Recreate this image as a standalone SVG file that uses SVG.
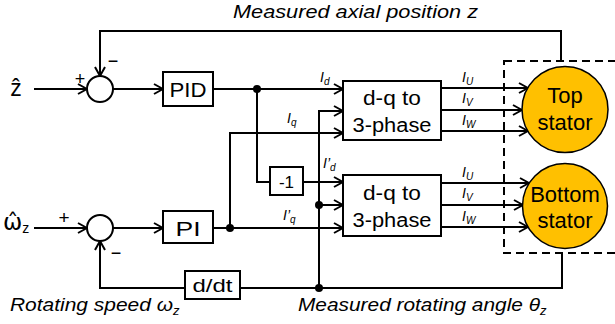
<svg xmlns="http://www.w3.org/2000/svg" width="615" height="324" viewBox="0 0 615 324">
<style>
text{font-family:"Liberation Sans",Arial,sans-serif;fill:#000}
.it{font-style:italic}
.blk{fill:#fff;stroke:#000;stroke-width:2}
.sum{fill:#fff;stroke:#000;stroke-width:2}
.stator{fill:#FFC000;stroke:#000;stroke-width:1.5}
.w{fill:none;stroke:#000;stroke-width:2}
.a{marker-end:url(#ah)}
.dot{fill:#000}
.mid{text-anchor:middle}
.lab{font-size:14px;font-style:italic}
.sub{font-size:10px}
.dv{font-family:"DejaVu Sans","Noto Sans",sans-serif}
</style>
<defs>
<marker id="ah" viewBox="0 0 12 12" refX="11" refY="6" markerWidth="12" markerHeight="12" markerUnits="userSpaceOnUse" orient="auto">
<path d="M2,1 L11,6 L2,11" fill="none" stroke="#000" stroke-width="2"/>
</marker>
</defs>

<g id="dashed-boundary">
<rect x="504" y="61" width="200" height="192" fill="none" stroke="#000" stroke-width="2" stroke-dasharray="8 5"/>
</g>

<g id="connectors">
<path class="w a" d="M34,89 H87"/>
<path class="w a" d="M113,89 H163"/>
<path class="w a" d="M213,89 H343"/>
<path class="w" d="M257,89 V182 H270"/>
<path class="w a" d="M303,182 H343"/>
<path class="w a" d="M230,228 V133 H343"/>
<path class="w a" d="M213,228 H343"/>
<path class="w a" d="M113,228 H163"/>
<path class="w a" d="M34,228 H87"/>
<path class="w" d="M562,253 V288 H240"/>
<path class="w a" d="M319,288 V111 H343"/>
<path class="w a" d="M319,205 H343"/>
<path class="w a" d="M185,288 H100 V241"/>
<path class="w a" d="M561,61 V31 H100 V76"/>
<path class="w a" d="M441,88 H528"/>
<path class="w a" d="M441,110 H522"/>
<path class="w a" d="M441,131 H528"/>
<path class="w a" d="M441,183 H529"/>
<path class="w a" d="M441,205 H523"/>
<path class="w a" d="M441,227 H528"/>
<circle class="dot" cx="257" cy="89" r="4"/>
<circle class="dot" cx="230" cy="228" r="4"/>
<circle class="dot" cx="319" cy="205" r="4"/>
<circle class="dot" cx="319" cy="288" r="4"/>
</g>

<g id="sum-z">
<circle class="sum" cx="100" cy="89" r="13"/>
<text x="80" y="85" font-size="18" class="mid">+</text>
<text x="113" y="67" font-size="18" class="mid">−</text>
</g>
<g id="sum-w">
<circle class="sum" cx="100" cy="228" r="13"/>
<text x="64" y="224" font-size="19" class="mid">+</text>
<text x="116" y="259" font-size="18" class="mid">−</text>
</g>

<g id="input-z">
<text x="16" y="96" font-size="23" class="mid">ẑ</text>
</g>
<g id="input-w">
<text x="3" y="230" font-size="23"><tspan class="dv">ω̂</tspan><tspan font-size="14" dy="3">z</tspan></text>
</g>

<g id="pid">
<rect class="blk" x="163" y="72" width="50" height="34"/>
<text x="188" y="97" font-size="21" class="mid" textLength="37" lengthAdjust="spacingAndGlyphs">PID</text>
</g>
<g id="pi">
<rect class="blk" x="163" y="211" width="50" height="32"/>
<text x="188" y="236" font-size="21" class="mid" textLength="25" lengthAdjust="spacingAndGlyphs">PI</text>
</g>
<g id="neg">
<rect class="blk" x="270" y="167" width="33" height="28"/>
<text x="286.5" y="188" font-size="17" class="mid">-1</text>
</g>
<g id="ddt">
<rect class="blk" x="185" y="271" width="55" height="28"/>
<text x="212.5" y="292" font-size="19" class="mid" textLength="40" lengthAdjust="spacingAndGlyphs">d/dt</text>
</g>

<g id="dq-top">
<rect class="blk" x="343" y="81" width="98" height="59"/>
<text x="392" y="105" font-size="20" class="mid" textLength="58" lengthAdjust="spacingAndGlyphs">d-q to</text>
<text x="392" y="132" font-size="20" class="mid" textLength="79" lengthAdjust="spacingAndGlyphs">3-phase</text>
</g>
<g id="dq-bottom">
<rect class="blk" x="343" y="175" width="98" height="61"/>
<text x="392" y="200" font-size="20" class="mid" textLength="58" lengthAdjust="spacingAndGlyphs">d-q to</text>
<text x="392" y="227" font-size="20" class="mid" textLength="79" lengthAdjust="spacingAndGlyphs">3-phase</text>
</g>

<g id="top-stator">
<circle class="stator" cx="565" cy="109.5" r="43"/>
<text x="565" y="103" font-size="22" class="mid">Top</text>
<text x="565" y="130" font-size="22" class="mid">stator</text>
</g>
<g id="bottom-stator">
<circle class="stator" cx="565" cy="206" r="42.5"/>
<text x="565" y="202" font-size="22" class="mid">Bottom</text>
<text x="565" y="228" font-size="22" class="mid">stator</text>
</g>

<g id="labels">
<text class="lab" x="320" y="82">I<tspan class="sub" dy="3">d</tspan></text>
<text class="lab" x="287" y="123">I<tspan class="sub" dy="3">q</tspan></text>
<text class="lab" x="323" y="168">I’<tspan class="sub" dy="3">d</tspan></text>
<text class="lab" x="283" y="220">I’<tspan class="sub" dy="3">q</tspan></text>
<text class="lab" x="462" y="82">I<tspan class="sub" dy="3">U</tspan></text>
<text class="lab" x="462" y="103">I<tspan class="sub" dy="3">V</tspan></text>
<text class="lab" x="462" y="125">I<tspan class="sub" dy="3">W</tspan></text>
<text class="lab" x="462" y="177">I<tspan class="sub" dy="3">U</tspan></text>
<text class="lab" x="462" y="198">I<tspan class="sub" dy="3">V</tspan></text>
<text class="lab" x="462" y="221">I<tspan class="sub" dy="3">W</tspan></text>
<text class="it" x="233" y="18" font-size="18" textLength="245" lengthAdjust="spacingAndGlyphs">Measured axial position z</text>
<text class="it" x="10" y="311" font-size="19"><tspan textLength="163" lengthAdjust="spacingAndGlyphs">Rotating speed ω</tspan><tspan font-size="13" dy="4">z</tspan></text>
<text class="it" x="298" y="311" font-size="19"><tspan textLength="242" lengthAdjust="spacingAndGlyphs">Measured rotating angle θ</tspan><tspan font-size="13" dy="4">z</tspan></text>
</g>
</svg>
